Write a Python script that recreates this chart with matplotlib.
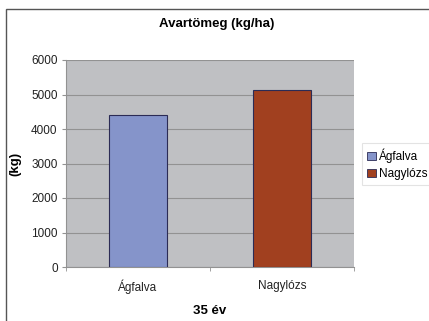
import matplotlib
matplotlib.use("Agg")
import matplotlib.pyplot as plt
from matplotlib.patches import Rectangle

plt.rcParams["font.family"] = ["Liberation Sans", "DejaVu Sans"]

categories = ["Ágfalva", "Nagylózs"]
values = [4400, 5130]
colors = ["#8594CA", "#A1401F"]
yticks = [0, 1000, 2000, 3000, 4000, 5000, 6000]
title = "Avartömeg (kg/ha)"
xlabel = "35 év"
ylabel = "(kg)"

W, H = 429, 321
fig = plt.figure(figsize=(W/100, H/100), dpi=100)
fig.patch.set_facecolor("white")

def fx(px): return px / W
def fy(py): return 1 - py / H

# outer frame
fig.patches.append(Rectangle((fx(6), fy(330)), fx(440) - fx(6), fy(9) - fy(330),
                             transform=fig.transFigure, fill=False,
                             edgecolor="#555555", linewidth=1.0))

ax = fig.add_axes([fx(66), fy(267), fx(354) - fx(66), fy(60) - fy(267)])
ax.set_facecolor("#BFC0C3")
x = list(range(len(categories)))
ax.bar(x, values, width=0.4, color=colors, edgecolor="#2B2B55", linewidth=0.8, zorder=3)
ax.set_xlim(-0.5, len(categories) - 0.5)
ax.set_ylim(0, 6000)
ax.set_yticks(yticks)
ax.set_yticklabels([str(t) for t in yticks], fontsize=8.5, color="#222222")
ax.yaxis.grid(True, color="#929292", linewidth=0.8, zorder=0)
ax.set_axisbelow(True)
ax.set_xticks(x)
ax.set_xticklabels(categories, fontsize=8.5, color="#222222")
ax.tick_params(axis="x", length=0, pad=9)
ax.set_xticks([-0.5, 0.5, 1.5], minor=True)
ax.tick_params(axis="x", which="minor", length=3, color="#929292")
ax.tick_params(axis="y", length=3, color="#929292", pad=3)
for s in ["top", "right"]:
    ax.spines[s].set_visible(False)
for s in ["left", "bottom"]:
    ax.spines[s].set_color("#929292")
    ax.spines[s].set_linewidth(0.8)

ax.set_xlabel(xlabel, fontsize=9.5, fontweight="bold", labelpad=8)
ax.set_ylabel(ylabel, fontsize=9.5, fontweight="bold", labelpad=7)
fig.text(fx(217), fy(24), title, fontsize=9.5, fontweight="bold", ha="center", va="center")

handles = [Rectangle((0, 0), 1, 1, facecolor=c, edgecolor="#2B2B55", linewidth=0.6) for c in colors]
leg = fig.legend(handles, categories, loc="upper left",
                 bbox_to_anchor=(fx(362), fy(143)), fontsize=8.5, frameon=True,
                 fancybox=False, edgecolor="#DDDDDD", handlelength=0.7, handleheight=0.7,
                 handletextpad=0.3, borderpad=0.45, labelspacing=0.45, borderaxespad=0)
leg.get_frame().set_linewidth(0.8)

fig.savefig("out.png", dpi=100)
